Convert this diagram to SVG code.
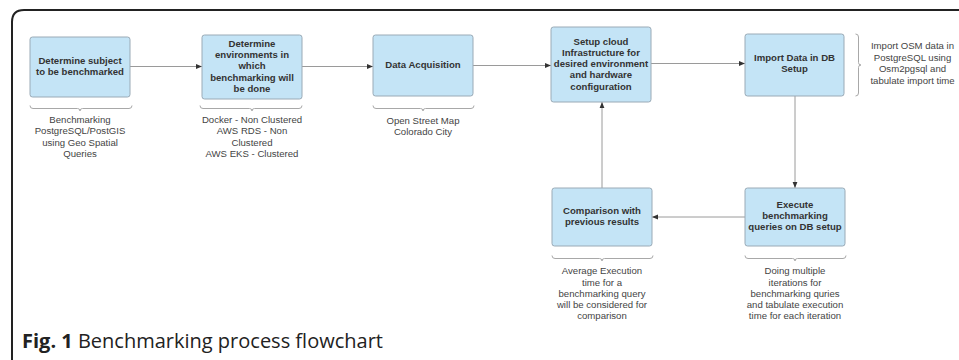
<svg xmlns="http://www.w3.org/2000/svg" width="959" height="360" viewBox="0 0 959 360">
  <defs>
    <marker id="arrow" viewBox="0 0 6 6" refX="6" refY="3" markerWidth="6" markerHeight="6" markerUnits="userSpaceOnUse" orient="auto">
      <path d="M0 0.6 L6 3 L0 5.4 Z" fill="#333"/>
    </marker>
    <style>
      .box { fill: #c4e4f6; stroke: #9aaab6; stroke-width: 1; }
      .lbl { font-family: "Liberation Sans", Arial, sans-serif; font-size: 9.6px; font-weight: bold; fill: #333; text-anchor: middle; }
      .note { font-family: "Liberation Sans", Arial, sans-serif; font-size: 9.6px; fill: #444; text-anchor: middle; }
      .brace { fill: none; stroke: #a8a8a8; stroke-width: 1; }
      .conn { fill: none; stroke: #9a9a9a; stroke-width: 1; marker-end: url(#arrow); }
      .cap { font-family: "Open Sans", "Noto Sans", sans-serif; font-size: 20px; fill: #222; }
    </style>
  </defs>

  <rect width="959" height="360" fill="#ffffff"/>

  <!-- figure frame -->
  <path d="M12 360 V22 Q12 10 24 10 H959" fill="none" stroke="#222" stroke-width="2"/>

  <!-- connectors -->
  <g id="connectors">
    <path class="conn" d="M130 66.5 H202"/>
    <path class="conn" d="M302 66.5 H373"/>
    <path class="conn" d="M473 65.5 H551"/>
    <path class="conn" d="M651 63.5 H745"/>
    <path class="conn" d="M795 96 V188"/>
    <path class="conn" d="M745 217 H652"/>
    <path class="conn" d="M602 188 V102"/>
  </g>

  <g id="node-subject">
    <rect class="box" x="30" y="37" width="100" height="60" rx="2.5"/>
    <text class="lbl"><tspan x="80" y="63.8">Determine subject</tspan><tspan x="80" y="75">to be benchmarked</tspan></text>
    <path class="brace" d="M30 105.5 q0 3 3 3 H77.5 q2.5 0 2.5 2.5 q0 -2.5 2.5 -2.5 H129 q3 0 3 -3"/>
    <text class="note"><tspan x="80" y="122.8">Benchmarking</tspan><tspan x="80" y="134.2">PostgreSQL/PostGIS</tspan><tspan x="80" y="145.6">using Geo Spatial</tspan><tspan x="80" y="157">Queries</tspan></text>
  </g>

  <g id="node-environments">
    <rect class="box" x="202" y="35" width="100" height="64" rx="2.5"/>
    <text class="lbl"><tspan x="252" y="46.8">Determine</tspan><tspan x="252" y="58.1">environments in</tspan><tspan x="252" y="69.4">which</tspan><tspan x="252" y="80.7">benchmarking will</tspan><tspan x="252" y="92">be done</tspan></text>
    <path class="brace" d="M200 105.5 q0 3 3 3 H249.5 q2.5 0 2.5 2.5 q0 -2.5 2.5 -2.5 H299 q3 0 3 -3"/>
    <text class="note"><tspan x="252" y="122.8">Docker - Non Clustered</tspan><tspan x="252" y="134.2">AWS RDS - Non</tspan><tspan x="252" y="145.6">Clustered</tspan><tspan x="252" y="157">AWS EKS - Clustered</tspan></text>
  </g>

  <g id="node-acquisition">
    <rect class="box" x="373" y="35" width="100" height="61" rx="2.5"/>
    <text class="lbl"><tspan x="423" y="68.3">Data Acquisition</tspan></text>
    <path class="brace" d="M373 105.5 q0 3 3 3 H420.5 q2.5 0 2.5 2.5 q0 -2.5 2.5 -2.5 H471 q3 0 3 -3"/>
    <text class="note"><tspan x="423" y="123.5">Open Street Map</tspan><tspan x="423" y="134.8">Colorado City</tspan></text>
  </g>

  <g id="node-cloud">
    <rect class="box" x="551" y="27" width="100" height="75" rx="2.5"/>
    <text class="lbl"><tspan x="601" y="44.5">Setup cloud</tspan><tspan x="601" y="55.8">Infrastructure for</tspan><tspan x="601" y="67.1">desired environment</tspan><tspan x="601" y="78.4">and hardware</tspan><tspan x="601" y="89.7">configuration</tspan></text>
  </g>

  <g id="node-import">
    <rect class="box" x="745" y="34" width="99" height="62" rx="2.5"/>
    <text class="lbl"><tspan x="794.5" y="60.8">Import Data in DB</tspan><tspan x="794.5" y="72.4">Setup</tspan></text>
    <path class="brace" d="M855.5 34 q3 0 3 3 V62.5 q0 2.5 2.5 2.5 q-2.5 0 -2.5 2.5 V93 q0 3 -3 3"/>
    <text class="note"><tspan x="912.5" y="49.2">Import OSM data in</tspan><tspan x="912.5" y="60.7">PostgreSQL using</tspan><tspan x="912.5" y="72.1">Osm2pgsql and</tspan><tspan x="912.5" y="83.6">tabulate import time</tspan></text>
  </g>

  <g id="node-execute">
    <rect class="box" x="745" y="188" width="100" height="58" rx="2.5"/>
    <text class="lbl"><tspan x="795" y="207.5">Execute</tspan><tspan x="795" y="218.8">benchmarking</tspan><tspan x="795" y="230">queries on DB setup</tspan></text>
    <path class="brace" d="M745 255.5 q0 3 3 3 H792.5 q2.5 0 2.5 2.5 q0 -2.5 2.5 -2.5 H843 q3 0 3 -3"/>
    <text class="note"><tspan x="795" y="274.2">Doing multiple</tspan><tspan x="795" y="285.5">iterations for</tspan><tspan x="795" y="296.8">benchmarking quries</tspan><tspan x="795" y="308.1">and tabulate execution</tspan><tspan x="795" y="319.4">time for each iteration</tspan></text>
  </g>

  <g id="node-comparison">
    <rect class="box" x="552" y="188" width="100" height="58" rx="2.5"/>
    <text class="lbl"><tspan x="602" y="213.8">Comparison with</tspan><tspan x="602" y="225.2">previous results</tspan></text>
    <path class="brace" d="M552 255.5 q0 3 3 3 H599.5 q2.5 0 2.5 2.5 q0 -2.5 2.5 -2.5 H650 q3 0 3 -3"/>
    <text class="note"><tspan x="602" y="274.2">Average Execution</tspan><tspan x="602" y="285.5">time for a</tspan><tspan x="602" y="296.8">benchmarking query</tspan><tspan x="602" y="308.1">will be considered for</tspan><tspan x="602" y="319.4">comparison</tspan></text>
  </g>

  <!-- caption -->
  <text class="cap" x="22" y="348"><tspan font-weight="bold">Fig. 1</tspan> Benchmarking process flowchart</text>
</svg>
